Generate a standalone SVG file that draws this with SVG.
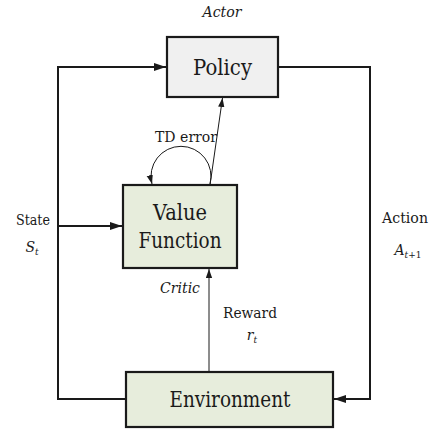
<svg xmlns="http://www.w3.org/2000/svg" width="441" height="431" viewBox="0 0 441 431">
<style>
text{font-family:"DejaVu Serif","Noto Serif",serif;fill:#1a1a1a}
.box{stroke:#1a1a1a;stroke-width:2.2}
.big{font-size:22px;text-anchor:middle}
.lab{font-size:14px;text-anchor:middle}
.it{font-style:italic}
.ln{fill:none;stroke:#1a1a1a;stroke-width:2}
.thin{fill:none;stroke:#1a1a1a;stroke-width:1}
</style>
<defs>
<marker id="ah" viewBox="0 0 12 8" refX="12" refY="4" markerWidth="12" markerHeight="8" markerUnits="userSpaceOnUse" orient="auto"><path d="M0 0L12 4L0 8z" fill="#1a1a1a"/></marker>
<marker id="ahs" viewBox="0 0 10 7" refX="10" refY="3.5" markerWidth="9" markerHeight="7" markerUnits="userSpaceOnUse" orient="auto"><path d="M0 0L10 3.5L0 7z" fill="#1a1a1a"/></marker>
</defs>
<g id="connectors">
<path class="ln" d="M126 399H58V67H166" marker-end="url(#ah)"/>
<path class="ln" d="M278 67H370V399H334" marker-end="url(#ah)"/>
<path class="ln" d="M58 226H122" marker-end="url(#ah)"/>
<path class="thin" d="M209 372V269" marker-end="url(#ahs)"/>
<path class="thin" d="M210 185L222.5 98" marker-end="url(#ahs)"/>
<path class="thin" d="M210 184A30 30 0 1 0 152 184" marker-end="url(#ahs)"/>
</g>
<g id="actor-label"><text class="lab it" x="222" y="17" textLength="39" lengthAdjust="spacingAndGlyphs">Actor</text></g>
<g id="policy">
<rect class="box" x="167" y="37" width="111" height="60" fill="#f0f0f0"/>
<text class="big" x="222.5" y="75" textLength="59" lengthAdjust="spacingAndGlyphs">Policy</text>
</g>
<g id="value-function">
<rect class="box" x="123" y="185" width="114" height="83" fill="#e7eddc"/>
<text class="big" x="180" y="220" textLength="54" lengthAdjust="spacingAndGlyphs">Value</text>
<text class="big" x="180" y="248" textLength="83" lengthAdjust="spacingAndGlyphs">Function</text>
</g>
<g id="environment">
<rect class="box" x="126" y="372" width="207" height="55" fill="#e7eddc"/>
<text class="big" x="230" y="407" textLength="121" lengthAdjust="spacingAndGlyphs">Environment</text>
</g>
<g id="labels">
<text class="lab" x="186" y="142" textLength="62" lengthAdjust="spacingAndGlyphs">TD error</text>
<text class="lab it" x="180" y="293" textLength="40" lengthAdjust="spacingAndGlyphs">Critic</text>
<text class="lab" x="33" y="225" textLength="34" lengthAdjust="spacingAndGlyphs">State</text>
<text class="lab it" x="32" y="252" font-size="16">S<tspan font-size="9" dy="3">t</tspan></text>
<text class="lab" x="405" y="223" textLength="46" lengthAdjust="spacingAndGlyphs">Action</text>
<text class="lab it" x="408" y="255" font-size="16">A<tspan font-size="9" dy="3" font-style="normal"><tspan font-style="italic">t</tspan>+1</tspan></text>
<text class="lab" x="250" y="318" textLength="54" lengthAdjust="spacingAndGlyphs">Reward</text>
<text class="lab it" x="252" y="340" font-size="16">r<tspan font-size="9" dy="3">t</tspan></text>
</g>
</svg>
